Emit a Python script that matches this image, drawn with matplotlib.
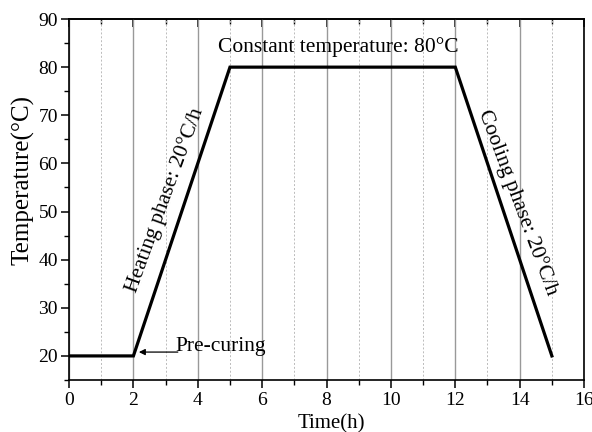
import numpy as np
import matplotlib
matplotlib.use("Agg")
import matplotlib.pyplot as plt
from matplotlib.ticker import MultipleLocator

plt.rcParams.update({
    "font.family": "serif", "font.serif": ["Liberation Serif", "DejaVu Serif"],
    "mathtext.fontset": "stix", "axes.linewidth": 1.2,
})

# curing schedule: time (h) vs temperature (degC)
time_h = [0, 2, 5, 12, 15]
temp_c = [20, 20, 80, 80, 20]

fig = plt.figure(figsize=(5.92, 4.32), dpi=100)
ax = fig.add_axes([0.1166, 0.1204, 0.870, 0.8356])

ax.plot(time_h, temp_c, color="black", lw=2.3, solid_joinstyle="miter", zorder=3)

ax.set_xlim(0, 16)
ax.set_ylim(15, 90)
ax.xaxis.set_major_locator(MultipleLocator(2))
ax.xaxis.set_minor_locator(MultipleLocator(1))
ax.yaxis.set_major_locator(MultipleLocator(10))
ax.yaxis.set_minor_locator(MultipleLocator(5))
ax.tick_params(which="major", direction="out", length=6, width=1.1, labelsize=14)
ax.tick_params(which="minor", direction="out", length=3.5, width=1.0)
ax.tick_params(axis="x", pad=3)
ax.tick_params(axis="y", pad=2)

top = ax.secondary_xaxis("top")
top.xaxis.set_major_locator(MultipleLocator(2))
top.xaxis.set_minor_locator(MultipleLocator(1))
top.tick_params(which="major", direction="in", length=6, width=1.1, labeltop=False)
top.tick_params(which="minor", direction="in", length=3.5, width=1.0)

ax.grid(which="major", axis="x", color="#999999", lw=1.0)
ax.grid(which="minor", axis="x", color="#bbbbbb", lw=0.7, ls=(0, (2, 2)))
ax.set_axisbelow(True)

ax.set_xlabel("Time(h)", fontsize=15)
ax.xaxis.set_label_coords(0.509, -0.095)
ax.set_ylabel("Temperature(°C)", fontsize=18)
ax.yaxis.set_label_coords(-0.068, 0.554)

ax.text(8.35, 84.2, "Constant temperature: 80°C", fontsize=15.5,
        ha="center", va="center")
ax.text(2.97, 52.4, "Heating phase: 20°C/h", fontsize=15.5, rotation=70,
        rotation_mode="anchor", ha="center", va="center")
ax.text(13.95, 51.9, "Cooling phase: 20°C/h", fontsize=15.5, rotation=-69.5,
        rotation_mode="anchor", ha="center", va="center")
ax.text(3.3, 21.9, "Pre-curing", fontsize=15.5, ha="left", va="center")
ax.annotate("", xy=(2.17, 20.8), xytext=(3.38, 20.8),
            arrowprops=dict(arrowstyle="-|>", color="black", lw=0.9,
                            mutation_scale=9, shrinkA=0, shrinkB=0))

fig.savefig("out.png", dpi=100)
